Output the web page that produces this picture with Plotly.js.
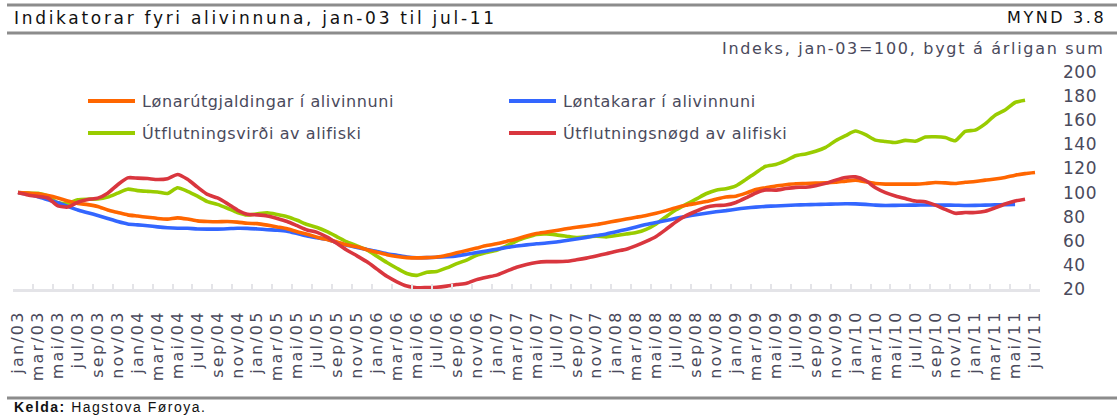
<!DOCTYPE html>
<html><head><meta charset="utf-8">
<script src="https://cdn.plot.ly/plotly-3.0.1.min.js"></script>
<style>
html,body{margin:0;padding:0;background:#fff;}
#chart{width:1117px;height:415px;}
.xtick text{letter-spacing:2.2px;}
.ytick text{letter-spacing:0.5px;}
</style></head><body><div id="chart"></div>
<script>
// ---- categories ----
const monthAbbr = ["jan","feb","mar","apr","mai","jun","jul","aug","sep","okt","nov","des"];
const years = ["03","04","05","06","07","08","09","10","11"];
const months = [];
years.forEach(y => monthAbbr.forEach(m => months.push(m + "/" + y)));
const categories = months.slice(0, 103);           // jan/03 .. jul/11
const tickLabels = categories.filter((m, i) => i % 2 === 0);
const yTicks = [20,40,60,80,100,120,140,160,180,200];

// ---- series ----
const seriesNames = ["Lønarútgjaldingar í alivinnuni","Løntakarar í alivinnuni","Útflutningsvirði av alifiski","Útflutningsnøgd av alifiski"];
const seriesColors = ["#ff6600","#3366ff","#99cc00","#d9363e"];

const lonarutgjaldingar = [100,99.5,99,97.5,95.5,93,91,90,88.5,85.5,
83.5,81.5,80.5,79.5,78.5,78,79,78,76.5,76,
75.8,76,75.5,74.5,74.2,73,71.5,70,67.5,65.5,
63,61,59,56.5,55,52.5,50.5,48.5,47,46,
45.8,46,46.5,48,50,52,54,56,57.5,59.5,
61.5,64,66,67.2,68.5,70,71.2,72.3,73.5,75,
76.5,78,79.5,81,82.8,85,87.5,89.5,91,92.5,
94.5,96.3,97,99.5,102.5,104,105.5,106.5,107.3,107.5,
107.8,108,108.5,109.5,110.3,109,107.5,107,107,107,
107,107.5,108.3,108,107.5,108.5,109.2,110.3,111.2,112.5,
114.4,115.7,116.6];

const lontakarar = [100,98.5,96.5,94,91.5,88.5,85.5,83.3,81,78.5,
76,74,73.2,72.5,71.5,70.8,70.4,70.4,69.8,69.7,
69.7,70,70.4,70.3,69.8,69.2,68.8,68,66,63.9,
62.5,61.2,58.4,56.2,54.5,52.8,51.2,49.3,48,46.6,
45.9,46,46.3,46.8,47.5,48.8,50.2,51.6,53,54.4,
55.6,56.6,57.5,58.1,59,60.2,61.5,62.8,64.3,65.7,
67.5,69.4,71.5,73.5,75.2,76.8,78.6,80.2,81.6,82.9,
84,85,86.2,87.2,87.9,88.5,88.9,89.3,89.7,89.9,
90.1,90.3,90.5,90.7,90.6,90.2,89.6,89.3,89.4,89.5,
89.6,89.7,89.7,89.6,89.5,89.3,89.4,89.6,89.8,90,
90.2];

const utflutningsvirdi = [100,99.5,99.3,97.2,91.5,91,94,94.5,94.6,96.2,
99.5,102.8,101.6,101,100.5,99.3,104,101,97,92.5,
90.2,87,83.5,81.4,82.4,83.2,81.8,80,77,73.5,
71,67.5,63.3,59,55.8,52.5,47.2,42,37.2,32.8,
31.3,33.9,34.5,37.5,41,44,48,50.3,52.2,55.8,
59.8,62.8,65.3,65.7,64.9,63.8,62.7,63.3,63.8,63.2,
64.3,65.6,66.8,69.5,74,80,85.7,90.2,94.5,99,
102,103.2,105.5,110.8,116.5,121.8,123.3,126.5,130.5,132,
134.2,137.5,143,147.2,151,148,143.5,142.4,141.5,143.3,
142.6,146,146.3,145.6,143,150.7,151.8,157,164.2,168.4,
174.7,176.6];

const utflutningsnogd = [100,98,96.8,95.5,89,88,92,94.3,95.4,99.5,
106.5,112.2,112,111.6,110.8,111.5,115,111,104.5,98.5,
95.5,90.8,85.5,82,81.5,80.6,78.5,76,72.5,69,
67,63,57.8,52.2,47.5,42.5,36.5,30.5,26,22.5,
21,21.2,21.5,22.4,23.7,24.8,27.8,29.8,31.5,34.8,
38,40.3,42,42.7,42.7,43,44.2,45.6,47.4,49.3,
51.3,53,56,59.5,63.6,69.5,75.8,80.8,84.5,87.8,
89.2,89.6,91.8,95.5,99.6,102.2,102,103.3,104.3,104.4,
105.6,107.6,110.3,112.5,113,110,104,100,97.2,95,
93,92.4,89.6,86,82.8,83.4,83.4,84.5,87.3,90.5,
93,94.5];

const seriesValues = [lonarutgjaldingar, lontakarar, utflutningsvirdi, utflutningsnogd];

// ---- layout helpers (pixel -> paper) ----
const W = 1117, H = 415;
const M = {l: 13, r: 77, t: 72, b: 126};
const PW = W - M.l - M.r, PH = H - M.t - M.b;
const px = x => (x - M.l) / PW;
const py = y => (H - M.b - y) / PH;

const TXT = "#4a4a5c";
const FONT = "DejaVu Sans";

const traces = seriesValues.map((vals, k) => ({
  type: "scatter", mode: "lines",
  x: categories.slice(0, vals.length), y: vals,
  name: seriesNames[k],
  line: {color: seriesColors[k], width: 3.6, shape: "spline", smoothing: 0.6},
  showlegend: false, hoverinfo: "skip"
}));
const ordered = [traces[2], traces[1], traces[0], traces[3]];

const shapes = [];
const annotations = [];
[5, 33, 398].forEach(yy => shapes.push({type: "line", xref: "paper", yref: "paper",
  x0: px(7), x1: px(1117), y0: py(yy), y1: py(yy), line: {color: "#8c8c8c", width: 3}}));

annotations.push({xref: "paper", yref: "paper", x: px(12), y: py(18), xanchor: "left", yanchor: "middle",
  showarrow: false, text: '<span style="letter-spacing:2.7px">Indikatorar fyri alivinnuna, jan-03 til jul-11</span>',
  font: {family: FONT, size: 17, color: "#111"}});
annotations.push({xref: "paper", yref: "paper", x: px(1108), y: py(18), xanchor: "right", yanchor: "middle",
  showarrow: false, text: '<span style="letter-spacing:2.6px">MYND 3.8</span>',
  font: {family: FONT, size: 16, color: "#111"}});
annotations.push({xref: "paper", yref: "paper", x: px(1106), y: py(48), xanchor: "right", yanchor: "middle",
  showarrow: false, text: '<span style="letter-spacing:1.7px">Indeks, jan-03=100, bygt á árligan sum</span>',
  font: {family: FONT, size: 16, color: TXT}});
annotations.push({xref: "paper", yref: "paper", x: px(12), y: py(407), xanchor: "left", yanchor: "middle",
  showarrow: false, text: '<span style="letter-spacing:1.5px"><b>Kelda:</b> Hagstova Føroya.</span>',
  font: {family: "Liberation Sans", size: 14, color: "#111"}});

const legPos = [[88, 101], [509, 101], [88, 133], [509, 133]];
seriesNames.forEach((nm, k) => {
  const [lx, ly] = legPos[k];
  shapes.push({type: "line", xref: "paper", yref: "paper", x0: px(lx), x1: px(lx + 47), y0: py(ly), y1: py(ly),
    line: {color: seriesColors[k], width: 4}});
  annotations.push({xref: "paper", yref: "paper", x: px(lx + 52), y: py(ly), xanchor: "left", yanchor: "middle",
    showarrow: false, text: '<span style="letter-spacing:0.6px">' + nm + '</span>',
    font: {family: FONT, size: 16, color: TXT}});
});

const layout = {
  width: W, height: H, margin: M,
  paper_bgcolor: "#fff", plot_bgcolor: "#fff",
  showlegend: false,
  xaxis: {type: "category", range: [-0.5, 102.5], tickmode: "array", tickvals: tickLabels, ticktext: tickLabels,
    tickson: "boundaries", ticks: "inside", ticklen: 5, tickwidth: 2, tickcolor: "#e4e4e8",
    showline: true, linecolor: "#e4e4e8", linewidth: 3, showgrid: false, zeroline: false,
    tickangle: -90, ticklabelstandoff: 12, tickfont: {family: FONT, size: 16, color: TXT}, fixedrange: true},
  yaxis: {side: "right", range: [20, 200], tickmode: "array", tickvals: yTicks, ticks: "",
    showline: false, showgrid: false, zeroline: false, ticklabelstandoff: 22,
    tickfont: {family: FONT, size: 17, color: TXT}, fixedrange: true},
  shapes: shapes, annotations: annotations
};

Plotly.newPlot("chart", ordered, layout, {staticPlot: true, displayModeBar: false});
</script></body></html>
